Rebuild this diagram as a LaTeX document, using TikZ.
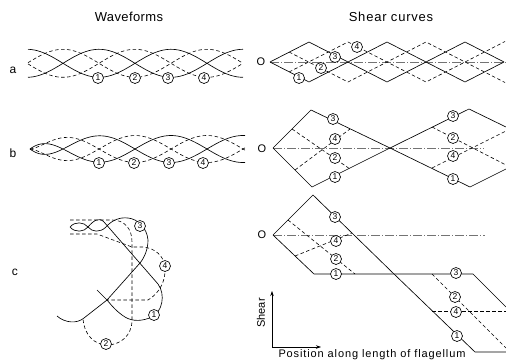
\documentclass[tikz,border=0pt]{standalone}
\usepackage{fontspec}
\setmainfont{Liberation Sans}
\usetikzlibrary{arrows.meta}
\begin{document}
\begin{tikzpicture}[x=1pt,y=-1pt,
  solidln/.style={line width=0.65pt, black},
  dashln/.style={line width=0.6pt, black, dash pattern=on 3.5pt off 2.5pt},
  axisln/.style={line width=0.5pt, black!55, dash pattern=on 9pt off 2pt on 1pt off 2pt},
  num/.style={circle, draw, line width=0.65pt, fill=white, inner sep=0pt, minimum size=11pt, font=\fontsize{8.5}{9}\selectfont},
  ttl/.style={font=\fontsize{13}{15}\selectfont},
  rowlab/.style={font=\fontsize{12}{14}\selectfont},
  olab/.style={font=\fontsize{11}{13}\selectfont},
  axlab/.style={font=\fontsize{11}{13}\selectfont},
  axarrow/.style={line width=0.6pt, -{Stealth[length=5pt,width=3.5pt]}}]
\useasboundingbox (0,0) rectangle (506,362);

% titles and row labels
\node[ttl] (t1) at (129,17) {\addfontfeature{LetterSpace=3}Waveforms};
\node[ttl] (t2) at (391,17) {\addfontfeature{LetterSpace=6}Shear curves};
\node[rowlab] (ra) at (13,70) {a};
\node[rowlab] (rb) at (13,153) {b};
\node[rowlab] (rc) at (15,272) {c};

% ---------- waveform a ----------
\foreach \p/\st in {99/solidln,135/dashln,171/solidln,207/dashln}
  \draw[\st] plot[domain=28:243, samples=90, smooth] (\x, {63.3+14*cos(2.5*(\x-\p))});
\node[num] (wa1) at (98,78) {1};
\node[num] (wa2) at (135,78) {2};
\node[num] (wa3) at (168,78) {3};
\node[num] (wa4) at (204,78) {4};

% ---------- waveform b ----------
\foreach \p/\st in {99/solidln,135/dashln,171/solidln,207/dashln}
  \draw[\st] plot[domain=30:245, samples=100, smooth] (\x, {149+13.5*(1-exp(-(\x-30)/18))*cos(2.5*(\x-\p))});
\node[num] (wb1) at (99,163) {1};
\node[num] (wb2) at (134,163) {2};
\node[num] (wb3) at (169,163) {3};
\node[num] (wb4) at (203,163) {4};

% ---------- waveform c ----------
% curve 3 (solid)
\draw[solidln] (70,227) .. controls (75,221) and (84,222) .. (88,227)
  .. controls (92,232) and (100,233) .. (106,227)
  .. controls (112,220) and (120,217) .. (128,218)
  .. controls (138,219) and (147,228) .. (148,240)
  .. controls (148,250) and (144,258) .. (140,263)
  -- (107,300) -- (84,318)
  .. controls (77,324) and (65,323) .. (57,316);
% curve 1 (solid)
\draw[solidln] (70,227) .. controls (75,233) and (84,232) .. (88,227)
  .. controls (93,221) and (99,216.5) .. (104,222)
  -- (158,284)
  .. controls (166,295) and (162,312) .. (152,317)
  .. controls (143,321) and (133,322) .. (125,317)
  .. controls (117,312) and (112,306) .. (107,300)
  -- (97,290);
% curve 2 (dashed)
\draw[dashln] (70,220) -- (112,220) .. controls (124,220) and (132,228) .. (132,242)
  -- (132,320) .. controls (132,336) and (120,345) .. (107,345)
  .. controls (94,345) and (84,334) .. (83,319);
% curve 4 (dashed)
\draw[dashln] (70,234) -- (97,234) -- (132,247) -- (143,247)
  .. controls (155,248) and (164,256) .. (165,267)
  .. controls (166,280) and (160,293) .. (148,300) -- (107,300);
\node[num] (wc3) at (140,226) {3};
\node[num] (wc4) at (165,266) {4};
\node[num] (wc1) at (154,315) {1};
\node[num] (wc2) at (106,344) {2};

% ---------- shear a ----------
\node[olab] (oa) at (261,62) {O};
\draw[axisln] (270,62) -- (506,62);
\draw[solidln] (270,62) -- (309,42) -- (348,62) -- (387,82) -- (426,62) -- (465,42) -- (504,62);
\draw[solidln] (270,62) -- (309,82) -- (348,62) -- (387,42) -- (426,62) -- (465,82) -- (504,62);
\draw[dashln] (289,52) -- (348,82) -- (426,42) -- (505,82.5);
\draw[dashln] (289,72) -- (348,42) -- (426,82) -- (505,41.5);
\node[num] (sa1) at (299,78) {1};
\node[num] (sa2) at (321,68) {2};
\node[num] (sa3) at (335,57) {3};
\node[num] (sa4) at (357,47) {4};

% ---------- shear b ----------
\node[olab] (ob) at (262,149) {O};
\draw[axisln] (273,148) -- (484,148);
\draw[solidln] (273,148) -- (311,110) -- (390,148) -- (469,109) -- (506,127);
\draw[solidln] (273,148) -- (312,187) -- (390,148) -- (470,187) -- (506,169);
\draw[dashln] (292,129) -- (350,169);
\draw[dashln] (295,170) -- (350,129);
\draw[dashln] (432,127) -- (506,165);
\draw[dashln] (432,168) -- (506,131);
\node[num] (sb3) at (333,119) {3};
\node[num] (sb4) at (335,139) {4};
\node[num] (sb2) at (335,158) {2};
\node[num] (sb1) at (335,177) {1};
\node[num] (sb3r) at (453,116) {3};
\node[num] (sb2r) at (453,138) {2};
\node[num] (sb4r) at (453,156) {4};
\node[num] (sb1r) at (453,179) {1};

% ---------- shear c ----------
\node[olab] (oc) at (262,235) {O};
\draw[axisln] (273,235) -- (485,235);
\draw[solidln] (273,235) -- (313,195) -- (394,274) -- (473,274) -- (506,307);
\draw[solidln] (273,235) -- (314,274) -- (394,274) -- (475,352) -- (506,352);
\draw[dashln] (288,220) -- (355,274);
\draw[dashln] (432,274) -- (506,348);
\draw[dashln] (295,256) -- (352,233);
\draw[dashln] (432,311) -- (506,311);
\node[num] (sc3) at (335,217) {3};
\node[num] (sc4) at (336,241) {4};
\node[num] (sc2) at (336,259) {2};
\node[num] (sc1) at (336,274) {1};
\node[num] (sc3r) at (456,273) {3};
\node[num] (sc2r) at (455,297) {2};
\node[num] (sc4r) at (456,312) {4};
\node[num] (sc1r) at (457,336) {1};

% ---------- axes ----------
\coordinate (ax0) at (272,347);
\coordinate (axy) at (272,291);
\coordinate (axx) at (321,347);
\draw[axarrow] (ax0) -- (axy);
\draw[axarrow] (ax0) -- (axx);
\node[axlab, rotate=90] (shl) at (261,313) {Shear};
\node[axlab] (pol) at (372,355) {\addfontfeature{LetterSpace=8}Position along length of flagellum};
\end{tikzpicture}
\end{document}
